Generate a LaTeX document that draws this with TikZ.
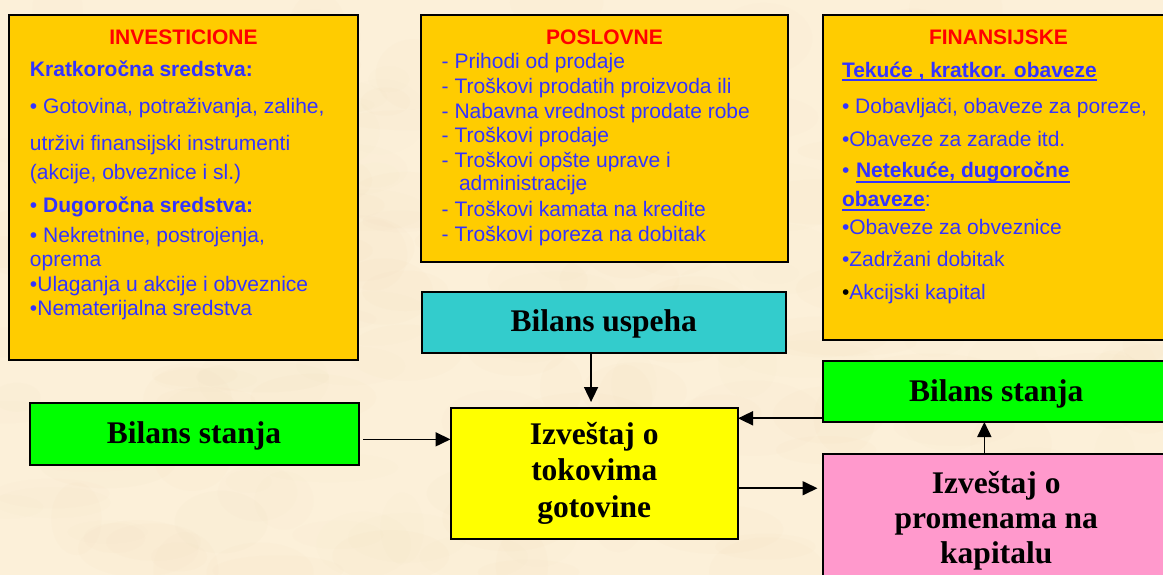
\documentclass[tikz,border=0pt]{standalone}
\usepackage{fontspec}
\setmainfont{Liberation Serif}
\newfontfamily\arial{Liberation Sans}
\usetikzlibrary{arrows.meta}

\definecolor{paper}{HTML}{FCF0D9}
\definecolor{papershade}{HTML}{EAD3A6}
\definecolor{boxorange}{HTML}{FFCC00}
\definecolor{txtblue}{HTML}{3333FF}
\definecolor{txtred}{HTML}{FF0000}
\definecolor{cyanbox}{HTML}{33CCCC}
\definecolor{greenbox}{HTML}{00FF00}
\definecolor{yellowbox}{HTML}{FFFF00}
\definecolor{pinkbox}{HTML}{FF99CC}

\tikzset{
  panel/.style={draw=black, line width=2pt, fill=boxorange, inner sep=0pt, outer sep=0pt},
  block/.style={draw=black, line width=2pt, inner sep=0pt, outer sep=0pt, align=center,
                font=\fontsize{31.5}{36.7}\selectfont\bfseries},
  single/.style={block, text height=21pt, text depth=2pt},
  ln/.style={anchor=base west, inner sep=0pt, outer sep=0pt, text=txtblue,
             font=\arial\fontsize{21}{24}\selectfont},
  lnb/.style={ln, font=\arial\fontsize{21}{24}\selectfont\bfseries},
  head/.style={anchor=base, inner sep=0pt, outer sep=0pt, text=txtred,
               font=\arial\fontsize{21}{24}\selectfont\bfseries},
  arr/.style={line width=1.7pt, -{Triangle[length=15pt,width=14pt]}},
  uline/.style={line width=2pt, draw=txtblue},
}

\begin{document}
\begin{tikzpicture}[x=1pt, y=-1pt]
  % page and parchment background
  \useasboundingbox (0,0) rectangle (1163,575);
  \fill[paper] (0,0) rectangle (1163,575);
  \begin{scope}
    \clip (0,0) rectangle (1163,575);
    \pgfmathsetseed{4242}
    \foreach \k in {1,...,260}{
      \pgfmathsetmacro{\px}{1163*rnd}
      \pgfmathsetmacro{\py}{575*rnd}
      \pgfmathsetmacro{\rx}{20+50*rnd}
      \pgfmathsetmacro{\ry}{10+30*rnd}
      \pgfmathsetmacro{\op}{0.02+0.04*rnd}
      \fill[papershade, opacity=\op] (\px,\py) ellipse [x radius=\rx pt, y radius=\ry pt];
    }
  \end{scope}

  % ---- three category panels ----
  \node[panel, minimum width=349pt, minimum height=345pt] (inv) at (183.5,187.5) {};
  \node[panel, minimum width=367pt, minimum height=247pt] (pos) at (604.5,138.5) {};
  \node[panel, minimum width=352pt, minimum height=325pt] (fin) at (999,177.5) {};

  % investing activities
  \node[head] (invh) at (183.5,45) {INVESTICIONE};
  \node[lnb] (i1) at (30,77) {Kratkoročna sredstva:};
  \node[ln]  (i2) at (30,114) {• Gotovina, potraživanja, zalihe,};
  \node[ln]  (i3) at (30,150.7) {utrživi finansijski instrumenti};
  \node[ln]  (i4) at (30,180) {(akcije, obveznice i sl.)};
  \node[ln]  (i5) at (30,212.7) {• \textbf{Dugoročna sredstva:}};
  \node[ln]  (i6) at (30,242) {• Nekretnine, postrojenja,};
  \node[ln]  (i7) at (30,266) {oprema};
  \node[ln]  (i8) at (30,291) {•Ulaganja u akcije i obveznice};
  \node[ln]  (i9) at (30,315) {•Nematerijalna sredstva};

  % operating activities
  \node[head] (posh) at (604.5,45) {POSLOVNE};
  \node[ln] (p1) at (441.7,69) {- Prihodi od prodaje};
  \node[ln] (p2) at (441.7,94) {- Troškovi prodatih proizvoda ili};
  \node[ln] (p3) at (441.7,119) {- Nabavna vrednost prodate robe};
  \node[ln] (p4) at (441.7,143) {- Troškovi prodaje};
  \node[ln] (p5) at (441.7,168) {- Troškovi opšte uprave i};
  \node[ln] (p6) at (459,191) {administracije};
  \node[ln] (p7) at (441.7,216) {- Troškovi kamata na kredite};
  \node[ln] (p8) at (441.7,241) {- Troškovi poreza na dobitak};

  % financing activities
  \node[head] (finh) at (998.5,45) {FINANSIJSKE};
  \node[lnb] (f1) at (842,77.3) {Tekuće , kratkor. obaveze};
  \node[ln]  (f2) at (842,114) {• Dobavljači, obaveze za poreze,};
  \node[ln]  (f3) at (842,146.7) {•Obaveze za zarade itd.};
  \node[ln]  (f4a) at (842,178) {•};
  \node[lnb] (f4b) at (856,178) {Netekuće, dugoročne};
  \node[lnb] (f5a) at (842,206.7) {obaveze};
  \node[ln]  (f5b) at (f5a.base east) {:};
  \node[ln]  (f6) at (842,234) {•Obaveze za obveznice};
  \node[ln]  (f7) at (842,266.7) {•Zadržani dobitak};
  \node[ln]  (f8) at (842,299) {\textcolor{black}{•}Akcijski kapital};

  \draw[uline] ([yshift=-2.7pt]f1.base west) -- ([yshift=-2.7pt]f1.base east);
  \draw[uline] ([yshift=-3.7pt]f4b.base west) -- ([yshift=-3.7pt]f4b.base east);
  \draw[uline] ([yshift=-3.3pt]f5a.base west) -- ([yshift=-3.3pt]f5a.base east);

  % ---- statements ----
  \node[single, fill=cyanbox, minimum width=364.5pt, minimum height=61pt] (bu) at (603.75,322) {Bilans uspeha};
  \node[single, fill=greenbox, minimum width=329pt, minimum height=61.5pt] (gl) at (194,433.75) {Bilans stanja};
  \node[block, fill=yellowbox, minimum width=287.5pt, minimum height=131.5pt] (yel) at (594.25,473.25)
       {Izveštaj o\\tokovima\\gotovine};
  \node[single, fill=greenbox, minimum width=347.5pt, minimum height=61pt] (gr) at (996.25,391.5) {Bilans stanja};
  \node[block, fill=pinkbox, minimum width=347.5pt, minimum height=133pt,
        font=\fontsize{31.5}{35}\selectfont\bfseries] (pk) at (996.25,520.4)
       {Izveštaj o\\promenama na\\kapitalu};

  % ---- flows ----
  \draw[arr] ([xshift=4.5pt,yshift=-5.6pt]gl.east) -- ([yshift=-5.6pt]gl.east -| yel.west);
  \draw[arr, shorten >=5.5pt] ([xshift=-12.7pt]bu.south) -- ([xshift=-12.7pt]bu.south |- yel.north);
  \draw[arr] ([yshift=-26.8pt]gr.west) -- ([yshift=-26.8pt]gr.west -| yel.east);
  \draw[arr, shorten >=5pt] ([yshift=-15pt]yel.east) -- ([yshift=-15pt]yel.east -| pk.west);
  \draw[arr] ([xshift=-11.9pt]pk.north) -- ([xshift=-11.9pt]pk.north |- gr.south);
\end{tikzpicture}
\end{document}
